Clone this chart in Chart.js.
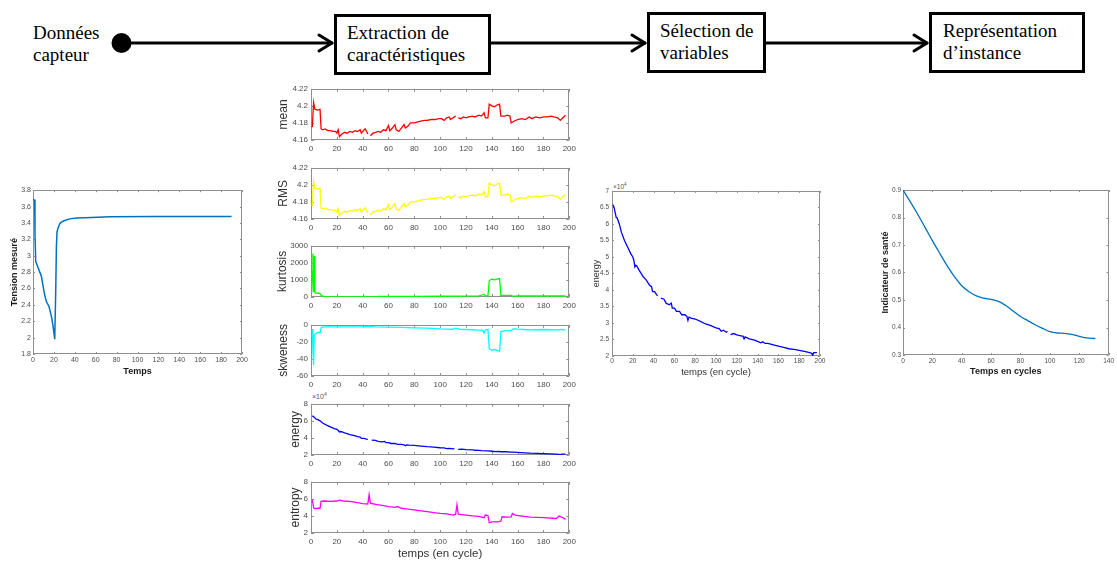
<!DOCTYPE html>
<html lang="fr">
<head>
<meta charset="utf-8">
<title>Chaîne de traitement</title>
<script src="https://cdn.jsdelivr.net/npm/chart.js@4.4.1/dist/chart.umd.min.js"></script>
<style>
  html, body { margin:0; padding:0; background:#fff; }
  #page { position:relative; width:1117px; height:561px; overflow:hidden; font-family:"Liberation Sans", Arial, sans-serif; }
  .step { position:absolute; font-family:"Liberation Serif","Times New Roman",serif; font-size:19px; line-height:21.5px; color:#000; white-space:nowrap; }
  .box { position:absolute; border:3px solid #000; box-sizing:border-box; }
  .expo { position:absolute; line-height:1; color:#555; white-space:nowrap; }
  .expo sup { font-size:70%; vertical-align:super; line-height:0; }
  #flow { position:absolute; left:0; top:0; }
</style>
</head>
<body>
<div id="page">
  <svg id="flow" width="1117" height="90">
    <circle cx="121.5" cy="43" r="10" fill="#000"/>
    <g stroke="#000" stroke-width="3" fill="none" stroke-linecap="round" stroke-linejoin="round">
      <line x1="121" y1="43" x2="332" y2="43"/>
      <polyline points="319,35 332,43 319,51"/>
      <line x1="491" y1="43" x2="645" y2="43"/>
      <polyline points="632,35 645,43 632,51"/>
      <line x1="766" y1="43" x2="927" y2="43"/>
      <polyline points="914,35 927,43 914,51"/>
    </g>
  </svg>
  <div class="step" style="left:33px;top:22px">Données<br>capteur</div>
  <div class="box" style="left:334px;top:14px;width:157px;height:61px"></div>
  <div class="step" style="left:347px;top:22px">Extraction de<br>caractéristiques</div>
  <div class="box" style="left:647px;top:12px;width:119px;height:61px"></div>
  <div class="step" style="left:660px;top:20px">Sélection de<br>variables</div>
  <div class="box" style="left:929px;top:12px;width:156px;height:61px"></div>
  <div class="step" style="left:943px;top:20px">Représentation<br>d’instance</div>

  <div class="expo" style="left:312px;top:393px;font-size:7px">×10<sup>4</sup></div>
  <div class="expo" style="left:613px;top:184px;font-size:6.5px">×10<sup>4</sup></div>
</div>

<script>
// ---- data ----
// sensor voltage vs time
const voltT = [0,1.6,1.9,2.6,5,8,11.2,12.8,15.3,17.6,19.2,20.8,21.7,22.4,23,24,25.6,27,30.4,35,41.5,50,73.5,115,190];
const voltV = [3.68,3.68,3.27,2.93,2.85,2.75,2.52,2.44,2.38,2.26,2.14,1.98,2.54,3.11,3.29,3.34,3.39,3.41,3.43,3.45,3.46,3.465,3.475,3.48,3.48];

// features per cycle (null = missing cycle)
const meanT = [
  1,2,3,5,7,7.8,9,11,13,15,
  17,19,20,21,22,24,26,28,30,32,
  34,36,38,39,40,42,43,44,45,46,
  48,50,52,54,56,58,60,61,63,65,
  66,68,70,72,73,75,77,80,82,85,
  88,90,93,96,99,101,103,105,107,108,
  110,112,113,114,116,118,120,122,125,127,
  130,132,134,135,137,138,140,142,144,146,
  147,150,152,154,155,157,160,163,166,169,
  171,174,177,180,183,186,188,191,193,195,
  197];
const meanValues = [
  4.175,4.204,4.196,4.195,4.196,4.173,4.172,4.173,4.171,4.171,
  4.170,4.170,4.168,4.172,4.164,4.167,4.169,4.168,4.170,4.169,
  4.171,4.170,4.172,4.168,4.170,4.173,4.170,4.167,null,4.165,
  4.168,4.169,4.170,4.169,4.172,4.171,4.177,4.171,4.174,4.178,
  4.172,4.170,4.174,4.178,4.174,4.176,4.180,4.180,4.181,4.182,
  4.183,4.183,4.184,4.184,4.185,4.185,4.183,4.186,4.187,4.184,
  4.186,4.188,null,4.186,4.185,4.187,4.186,4.187,4.188,4.187,
  4.189,4.188,4.192,4.186,4.186,4.202,4.200,4.199,4.201,4.202,
  4.188,4.188,4.189,4.188,4.180,4.182,4.184,4.185,4.184,4.187,
  4.185,4.187,4.186,4.187,4.187,4.188,4.187,4.186,4.183,4.186,
  4.189];
const rmsValues = [
  4.175,4.204,4.196,4.195,4.196,4.173,4.172,4.173,4.171,4.171,
  4.170,4.170,4.168,4.172,4.164,4.167,4.169,4.168,4.170,4.169,
  4.171,4.170,4.172,4.168,4.170,4.173,4.170,4.167,null,4.165,
  4.168,4.169,4.170,4.169,4.172,4.171,4.177,4.171,4.174,4.178,
  4.172,4.170,4.174,4.178,4.174,4.176,4.180,4.180,4.181,4.182,
  4.183,4.183,4.184,4.184,4.185,4.185,4.183,4.186,4.187,4.184,
  4.186,4.188,null,4.186,4.185,4.187,4.186,4.187,4.188,4.187,
  4.189,4.188,4.192,4.186,4.186,4.202,4.200,4.199,4.201,4.202,
  4.188,4.188,4.189,4.188,4.180,4.182,4.184,4.185,4.184,4.187,
  4.185,4.187,4.186,4.187,4.187,4.188,4.187,4.186,4.183,4.186,
  4.189];

const kurtT = [
  0.5,1,1.5,2,2.5,3,4,6,7,8,
  10,12,15,20,30,40,42,44,50,52,
  60,80,100,120,130,134,135,137,138,140,
  142,144,146,147,150,155,156,160,180,197];
const kurtValues = [
  200,1500,2550,300,2400,250,230,220,200,80,
  40,20,10,5,5,10,40,5,5,30,
  30,35,45,55,70,150,80,60,950,1050,
  1000,1050,1080,100,100,100,40,60,60,60];

const skewT = [
  1,1.5,2,2.5,3,4,5,7,8,10,
  20,30,40,45,50,60,70,80,90,100,
  105,110,112,115,120,125,130,133,134,135,
  137,138,140,142,144,146,147,150,155,157,
  160,165,170,180,190,195,197];
const skewValues = [
  -5,-30,-47,-12,-12,-10,-9,-9,-3,-2.5,
  -2.5,-2.5,-2.2,-1.8,-2.5,-2.8,-3,-3.5,-4,-4.8,
  -5,-5.2,-4,-5.2,-5.5,-5.8,-6.2,-6.5,-9.5,-6,
  -5.5,-28,-30,-29,-30,-31,-8,-7,-6.5,-4.5,
  -5,-5.5,-6,-5.5,-6,-5.5,-6.5];

// energy in units of 10^4
const energyT = [
  1,2,3,4,5,7,9,12,15,18,
  20,21,22,23,24,26,28,30,33,36,
  38,39,41,43,44,45,47,50,52,55,
  57,58,60,62,65,67,70,72,73,74,
  76,80,85,90,95,100,103,105,107,110,
  111,112.5,114,117,120,125,126,127,128,132,
  137,140,143,145,147,150,155,160,165,170,
  175,180,185,190,192,193,194,197];
const energyValues = [
  6.58,6.5,6.35,6.2,6.18,6.0,5.75,5.5,5.3,5.1,
  5.0,4.9,4.7,4.75,4.72,4.6,4.5,4.4,4.3,4.15,
  4.1,3.95,3.95,3.85,3.82,null,3.75,3.72,3.6,3.55,
  3.6,3.45,3.45,3.35,3.35,3.25,3.25,3.2,3.08,3.18,
  3.15,3.12,3.05,2.97,2.92,2.85,2.83,2.75,2.78,2.72,
  2.75,null,2.65,2.68,2.64,2.6,2.6,2.52,2.58,2.52,
  2.48,2.44,2.4,2.43,2.38,2.38,2.34,2.3,2.26,2.22,
  2.2,2.17,2.14,2.1,2.08,2.02,2.1,2.1];

const entT = [
  1,2,3,5,7,7.8,10,15,20,22,
  25,30,35,40,44,45,46,50,55,60,
  65,67,70,75,80,85,90,95,100,105,
  110,112,113,114,120,125,130,134,135,137,
  138,140,145,147,148,152,155,156,158,165,
  170,180,190,192,195,197];
const entValues = [
  5.9,5.0,4.85,4.9,4.9,5.7,5.75,5.7,5.75,5.85,
  5.75,5.7,5.6,5.45,5.4,6.5,5.5,5.35,5.25,5.1,
  5.0,5.1,4.9,4.8,4.7,4.6,4.5,4.4,4.3,4.25,
  4.1,4.2,5.3,4.2,4.1,4.0,3.95,3.8,4.1,4.05,
  3.2,3.3,3.3,3.4,3.9,3.85,3.9,4.3,4.1,3.95,
  3.85,3.8,3.7,4.0,3.8,3.6];

// health indicator
const healthT = [0,5,10,15,20,25,30,35,40,45,50,55,60,65,70,75,80,85,90,95,100,105,110,115,120,125,131];
const healthV = [0.9,0.857,0.812,0.764,0.716,0.67,0.625,0.585,0.552,0.53,0.515,0.507,0.502,0.495,0.48,0.46,0.44,0.425,0.41,0.397,0.385,0.38,0.379,0.375,0.368,0.362,0.36];

// ---- drawing ----
const page = document.getElementById('page');
const SANS = '"Liberation Sans", Arial, sans-serif';
const fmt = v => String(Math.round(v * 1000) / 1000);
const pts = (xs, ys) => xs.map((x, i) => ({ x, y: ys[i] }));

// matlab-like box with inward ticks, drawn under the curves
const boxPlugin = {
  id: 'box',
  beforeDatasetsDraw(chart, args, o) {
    const { ctx, chartArea: a, scales: { x, y } } = chart;
    const L = o.len || 3;
    ctx.save();
    ctx.strokeStyle = '#8f8f8f';
    ctx.lineWidth = 1;
    ctx.beginPath();
    ctx.rect(Math.round(a.left) + 0.5, Math.round(a.top) + 0.5, Math.round(a.width) - 1, Math.round(a.height) - 1);
    x.ticks.forEach(t => {
      const p = Math.round(x.getPixelForValue(t.value)) + 0.5;
      ctx.moveTo(p, a.bottom); ctx.lineTo(p, a.bottom - L);
      ctx.moveTo(p, a.top); ctx.lineTo(p, a.top + L);
    });
    y.ticks.forEach(t => {
      const p = Math.round(y.getPixelForValue(t.value)) + 0.5;
      ctx.moveTo(a.left, p); ctx.lineTo(a.left + L, p);
      ctx.moveTo(a.right, p); ctx.lineTo(a.right - L, p);
    });
    ctx.stroke();
    ctx.restore();
  }
};

function plot(c) {
  const cv = document.createElement('canvas');
  const w = c.yw + (c.right - c.left) + c.padR;
  const h = c.padT + (c.bottom - c.top) + c.xh;
  cv.width = w; cv.height = h;
  cv.style.cssText = `position:absolute;left:${c.left - c.yw}px;top:${c.top - c.padT}px;width:${w}px;height:${h}px`;
  page.appendChild(cv);
  const tick = (size, pad) => ({ font: { family: SANS, size }, color: '#4d4d4d', padding: pad, maxRotation: 0, autoSkip: false, callback: fmt });
  new Chart(cv, {
    type: 'line',
    data: { datasets: [{ data: pts(c.xs, c.ys), borderColor: c.color, borderWidth: c.lw || 1.3, pointRadius: 0, tension: c.tension || 0, fill: false, spanGaps: false }] },
    options: {
      responsive: false, animation: false, events: [],
      layout: { padding: { top: c.padT, right: c.padR, left: 0, bottom: 0 } },
      plugins: { legend: { display: false }, tooltip: { enabled: false }, box: { len: c.tickLen || 3 } },
      scales: {
        x: {
          type: 'linear', min: c.xMin, max: c.xMax,
          ticks: Object.assign(tick(c.tickSize, c.xPad), { stepSize: c.xStep }),
          grid: { display: false, drawTicks: false }, border: { display: false },
          title: { display: !!c.xTitle, text: c.xTitle || '', color: c.titleColor, padding: 0,
                   font: { family: SANS, size: c.xTitleSize || c.titleSize, weight: c.titleWeight } },
          afterFit: s => { s.height = c.xh; }
        },
        y: {
          type: 'linear', min: c.yMin, max: c.yMax,
          ticks: Object.assign(tick(c.tickSize, c.yPad), { stepSize: c.yStep }),
          grid: { display: false, drawTicks: false }, border: { display: false },
          title: { display: true, text: c.yTitle, color: c.titleColor, padding: 0,
                   font: { family: SANS, size: c.titleSize, weight: c.titleWeight } },
          afterFit: s => { s.width = c.yw; }
        }
      }
    },
    plugins: [boxPlugin]
  });
}

// sensor data
plot({ xs: voltT, ys: voltV, color: '#0072BD', lw: 1.5,
  left: 33, right: 242, top: 190, bottom: 354, yw: 24, xh: 23, padT: 6, padR: 8,
  xMin: 0, xMax: 200, xStep: 20, yMin: 1.8, yMax: 3.8, yStep: 0.2,
  tickSize: 7, xPad: 2, yPad: 2, tickLen: 2,
  yTitle: 'Tension mesuré', xTitle: 'Temps', titleSize: 9, titleWeight: 'bold', titleColor: '#1a1a1a' });

// extracted features
const feats = [
  { xs: meanT, ys: meanValues, color: '#ff0000', yTitle: 'mean', yMin: 4.16, yMax: 4.22, yStep: 0.02, yw: 35 },
  { xs: meanT, ys: rmsValues, color: '#ffff00', yTitle: 'RMS', yMin: 4.16, yMax: 4.22, yStep: 0.02, yw: 35 },
  { xs: kurtT, ys: kurtValues, color: '#00ff00', yTitle: 'kurtosis', yMin: 0, yMax: 3000, yStep: 1000, yw: 36 },
  { xs: skewT, ys: skewValues, color: '#00ffff', yTitle: 'skweness', yMin: -60, yMax: 0, yStep: 20, yw: 35 },
  { xs: energyT, ys: energyValues, color: '#0000ff', yTitle: 'energy', yMin: 2, yMax: 8, yStep: 2, yw: 23 },
  { xs: entT, ys: entValues, color: '#ff00ff', yTitle: 'entropy', yMin: 2, yMax: 8, yStep: 2, yw: 23 }
];
const featTops = [87, 166, 244, 323, 402, 480];
feats.forEach((f, i) => {
  const last = i === feats.length - 1;
  plot(Object.assign({
    left: 311, right: 572, top: featTops[i], bottom: featTops[i] + 53,
    xh: last ? 28 : 14, padT: 6, padR: 8,
    xMin: 0, xMax: 200, xStep: 20, tickSize: 8, xPad: 4, yPad: 3,
    xTitle: last ? 'temps (en cycle)' : '', xTitleSize: 11.5,
    titleSize: 12, titleWeight: 'normal', titleColor: '#333'
  }, f));
});

// selected variable
plot({ xs: energyT, ys: energyValues, color: '#0000ff', lw: 1.3,
  left: 612, right: 820, top: 190, bottom: 356, yw: 21, xh: 22, padT: 6, padR: 8,
  xMin: 0, xMax: 200, xStep: 20, yMin: 2, yMax: 7, yStep: 0.5,
  tickSize: 6.5, xPad: 1, yPad: 3, tickLen: 2,
  yTitle: 'energy', xTitle: 'temps (en cycle)', titleSize: 9, xTitleSize: 9.5, titleWeight: 'normal', titleColor: '#333' });

// health indicator
plot({ xs: healthT, ys: healthV, color: '#0072BD', lw: 1.3, tension: 0.4,
  left: 903, right: 1109, top: 190, bottom: 355, yw: 23, xh: 22, padT: 6, padR: 7,
  xMin: 0, xMax: 140, xStep: 20, yMin: 0.3, yMax: 0.9, yStep: 0.1,
  tickSize: 6.5, xPad: 2, yPad: 2, tickLen: 2,
  yTitle: 'Indicateur de santé', xTitle: 'Temps en cycles', titleSize: 9, titleWeight: 'bold', titleColor: '#1a1a1a' });
</script>
</body>
</html>
